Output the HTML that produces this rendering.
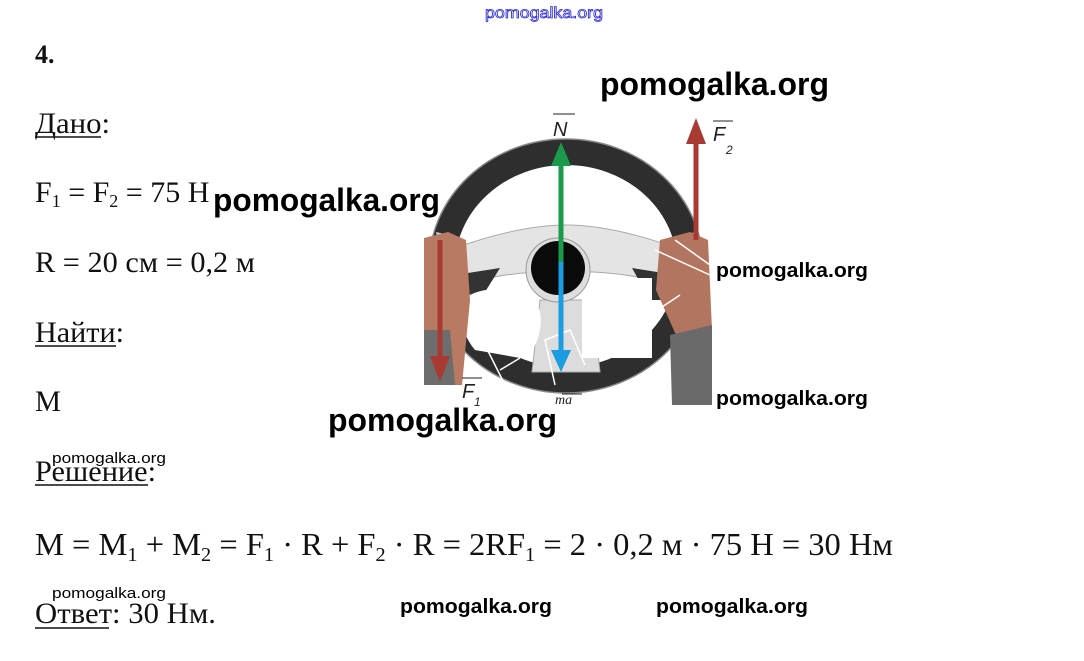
<!DOCTYPE html>
<html><head><meta charset="utf-8"><style>
html,body{margin:0;padding:0;background:#fff;}
svg{display:block}
</style></head><body>
<svg width="1084" height="661" viewBox="0 0 1084 661" xmlns="http://www.w3.org/2000/svg">
<rect width="1084" height="661" fill="#fff"/>
<!-- steering wheel image -->
<g>
  <!-- outer ring -->
  <ellipse cx="566" cy="266" rx="124" ry="114" fill="none" stroke="#2e2e2e" stroke-width="26"/>
  <ellipse cx="566" cy="266" rx="137" ry="127" fill="none" stroke="#888" stroke-width="1.5"/>
  <!-- silver accents on ring -->
  <path d="M436 232 L462 238 L462 258 L440 252 Z" fill="#cfcfcf"/>
  <path d="M696 232 L670 238 L670 258 L692 252 Z" fill="#cfcfcf"/>
  <!-- spokes -->
  <path d="M455 248 Q520 225 566 225 Q612 225 676 248 L672 285 Q620 270 566 272 Q510 270 460 285 Z" fill="#e4e4e4" stroke="#aaa"/>
  <path d="M540 300 L592 300 L600 372 L532 372 Z" fill="#dcdcdc" stroke="#aaa"/>
  <path d="M455 275 L500 268 L480 300 L460 300 Z" fill="#333"/>
  <path d="M676 275 L632 268 L650 300 L670 300 Z" fill="#333"/>
  <!-- white blanks -->
  <path d="M462 300 Q480 285 520 290 Q545 300 540 330 Q535 355 520 358 L475 350 Q458 330 462 300 Z" fill="#fff"/>
  <rect x="582" y="278" width="70" height="80" fill="#fff"/>
  <!-- hub -->
  <circle cx="558" cy="270" r="32" fill="#ddd" stroke="#999"/>
  <circle cx="558" cy="268" r="27" fill="#0a0a0a"/>
  <!-- left hand -->
  <path d="M424 238 L448 232 L466 240 L470 300 L462 385 L424 385 Z" fill="#b87a62"/>
  <path d="M424 330 L450 330 L455 385 L424 385 Z" fill="#6d6d6d"/>
  <!-- right hand -->
  <path d="M660 240 L690 232 L708 240 L712 330 L700 345 L676 335 L656 290 Z" fill="#b27560"/>
  <path d="M670 335 L712 325 L712 405 L672 405 Z" fill="#6a6a6a"/>
  <!-- white construction lines -->
  <g stroke="#fff" stroke-width="1.5" fill="none">
    <path d="M655 250 L710 275 M675 240 L710 265 M680 295 L650 315"/>
    <path d="M485 345 L505 385 M500 370 L520 358 M555 385 L545 340 L570 330 L585 365"/>
  </g>
  <!-- arrows -->
  <line x1="561" y1="162" x2="561" y2="262" stroke="#1a9a4a" stroke-width="5"/>
  <polygon points="561,142 551,166 571,166" fill="#1a9a4a"/>
  <line x1="561" y1="262" x2="561" y2="352" stroke="#1b9be0" stroke-width="5"/>
  <polygon points="561,372 551,350 571,350" fill="#1b9be0"/>
  <line x1="696" y1="138" x2="696" y2="240" stroke="#a83a32" stroke-width="5"/>
  <polygon points="696,118 686,144 706,144" fill="#a83a32"/>
  <line x1="440" y1="240" x2="440" y2="358" stroke="#a83a32" stroke-width="5"/>
  <polygon points="440,382 430,356 450,356" fill="#a83a32"/>
  <!-- labels -->
  <g font-family="Liberation Sans, sans-serif" font-style="italic" fill="#222">
    <text x="553" y="136" font-size="20">N</text>
    <line x1="553" y1="114" x2="575" y2="114" stroke="#222"/>
    <text x="713" y="141" font-size="20">F</text><text x="726" y="154" font-size="12">2</text>
    <line x1="713" y1="121" x2="733" y2="121" stroke="#222"/>
    <text x="462" y="398" font-size="20">F</text><text x="474" y="406" font-size="12">1</text>
    <line x1="462" y1="378" x2="482" y2="378" stroke="#222"/>
    <text x="555" y="404" font-size="14" font-family="Liberation Serif, serif">ma</text>
    <line x1="562" y1="394" x2="582" y2="394" stroke="#222"/>
  </g>
</g>
<!-- main text -->
<g font-family="Liberation Serif, serif" fill="#111" font-size="30">
  <text x="35" y="63" font-weight="bold" font-size="26">4.</text>
  <text x="35" y="133" textLength="75" lengthAdjust="spacingAndGlyphs">Дано:</text>
  <line x1="35" y1="137" x2="101" y2="137" stroke="#111" stroke-width="1.5"/>
  <text x="35" y="202">F<tspan font-size="18" dy="5">1</tspan><tspan dy="-5"> = F</tspan><tspan font-size="18" dy="5">2</tspan><tspan dy="-5"> = 75 Н</tspan></text>
  <text x="35" y="272" textLength="220" lengthAdjust="spacingAndGlyphs">R = 20 см = 0,2 м</text>
  <text x="35" y="342" textLength="89" lengthAdjust="spacingAndGlyphs">Найти:</text>
  <line x1="35" y1="346" x2="116" y2="346" stroke="#111" stroke-width="1.5"/>
  <text x="35" y="411" textLength="26" lengthAdjust="spacingAndGlyphs">М</text>
  <text x="35" y="481" textLength="121" lengthAdjust="spacingAndGlyphs">Решение:</text>
  <line x1="35" y1="485" x2="148" y2="485" stroke="#111" stroke-width="1.5"/>
  <text x="35" y="555" font-size="32" textLength="858" lengthAdjust="spacingAndGlyphs">М = М<tspan font-size="20" dy="6">1</tspan><tspan dy="-6"> + М</tspan><tspan font-size="20" dy="6">2</tspan><tspan dy="-6"> = F</tspan><tspan font-size="20" dy="6">1</tspan><tspan dy="-6"> · R  + F</tspan><tspan font-size="20" dy="6">2</tspan><tspan dy="-6"> · R = 2RF</tspan><tspan font-size="20" dy="6">1</tspan><tspan dy="-6"> = 2 · 0,2 м  · 75 Н = 30 Нм</tspan></text>
  <text x="35" y="623" textLength="181" lengthAdjust="spacingAndGlyphs">Ответ: 30 Нм.</text>
  <line x1="35" y1="628" x2="109" y2="628" stroke="#111" stroke-width="1.5"/>
</g>
<!-- watermarks -->
<g font-family="Liberation Sans, sans-serif" font-weight="bold" fill="#000">
  <text x="600" y="95" font-size="32" textLength="229" lengthAdjust="spacingAndGlyphs">pomogalka.org</text>
  <text x="213" y="211" font-size="32" textLength="227" lengthAdjust="spacingAndGlyphs">pomogalka.org</text>
  <text x="328" y="431" font-size="32" textLength="229" lengthAdjust="spacingAndGlyphs">pomogalka.org</text>
  <text x="716" y="277" font-size="20" textLength="152" lengthAdjust="spacingAndGlyphs">pomogalka.org</text>
  <text x="716" y="405" font-size="20" textLength="152" lengthAdjust="spacingAndGlyphs">pomogalka.org</text>
  <text x="400" y="613" font-size="20" textLength="152" lengthAdjust="spacingAndGlyphs">pomogalka.org</text>
  <text x="656" y="613" font-size="20" textLength="152" lengthAdjust="spacingAndGlyphs">pomogalka.org</text>
  <text x="52" y="463" font-size="15" font-weight="normal" textLength="114" lengthAdjust="spacingAndGlyphs">pomogalka.org</text>
  <text x="52" y="598" font-size="15" font-weight="normal" textLength="114" lengthAdjust="spacingAndGlyphs">pomogalka.org</text>
  <text x="485" y="18" font-size="16" font-weight="normal" fill="#fff" stroke="#2a2ad0" stroke-width="0.8" textLength="118" lengthAdjust="spacingAndGlyphs">pomogalka.org</text>
</g>
</svg>
</body></html>
